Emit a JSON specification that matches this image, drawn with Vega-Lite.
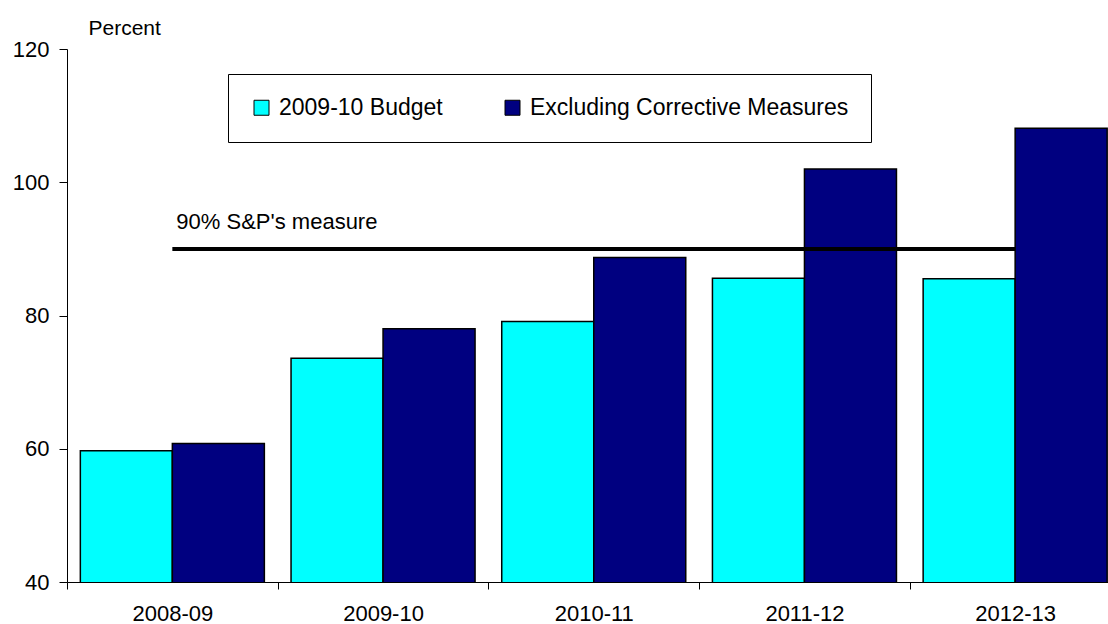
{
  "$schema": "https://vega.github.io/schema/vega-lite/v6.json",
  "width": 1041,
  "height": 533,
  "autosize": {"type": "none"},
  "padding": {"left": 67, "top": 49, "right": 0, "bottom": 42},
  "background": "white",
  "config": {
    "font": "Liberation Sans",
    "view": {"stroke": null}
  },
  "datasets": {
    "bars": [
      {"year": "2008-09", "series": "2009-10 Budget", "value": 59.7},
      {"year": "2008-09", "series": "Excluding Corrective Measures", "value": 60.8},
      {"year": "2009-10", "series": "2009-10 Budget", "value": 73.6},
      {"year": "2009-10", "series": "Excluding Corrective Measures", "value": 78.0},
      {"year": "2010-11", "series": "2009-10 Budget", "value": 79.1},
      {"year": "2010-11", "series": "Excluding Corrective Measures", "value": 88.7},
      {"year": "2011-12", "series": "2009-10 Budget", "value": 85.6},
      {"year": "2011-12", "series": "Excluding Corrective Measures", "value": 102.0},
      {"year": "2012-13", "series": "2009-10 Budget", "value": 85.5},
      {"year": "2012-13", "series": "Excluding Corrective Measures", "value": 108.1}
    ],
    "ref": [
      {"year": "2008-09", "value": 90},
      {"year": "2012-13", "value": 90}
    ],
    "note": [
      {"year": "2008-09", "value": 93, "label": "90% S&P's measure"}
    ]
  },
  "layer": [
    {
      "data": {"name": "bars"},
      "mark": {"type": "bar", "stroke": "black", "strokeWidth": 1.5, "clip": true},
      "encoding": {
        "x": {
          "field": "year",
          "type": "nominal",
          "sort": null,
          "scale": {"range": [0, 1053.5], "paddingInner": 0, "paddingOuter": 0},
          "axis": {
            "title": null,
            "labelAngle": 0,
            "labelFont": "Liberation Sans",
            "labelFontSize": 22,
            "labelColor": "black",
            "labelPadding": 14,
            "tickBand": "extent",
            "tickSize": 7,
            "tickColor": "black",
            "domainColor": "black",
            "domainWidth": 1,
            "grid": false
          }
        },
        "xOffset": {
          "field": "series",
          "type": "nominal",
          "sort": null,
          "scale": {"paddingOuter": 0.145, "paddingInner": 0}
        },
        "y": {
          "field": "value",
          "type": "quantitative",
          "scale": {"domain": [40, 120], "nice": false, "zero": false},
          "axis": {
            "values": [40, 60, 80, 100, 120],
            "grid": false,
            "labelFont": "Liberation Sans",
            "labelFontSize": 22,
            "labelColor": "black",
            "labelPadding": 10,
            "tickSize": 8,
            "tickColor": "black",
            "domainColor": "black",
            "title": "Percent",
            "titleAngle": 0,
            "titleAlign": "left",
            "titleBaseline": "alphabetic",
            "titleX": 21,
            "titleY": -15,
            "titleFont": "Liberation Sans",
            "titleFontSize": 21,
            "titleFontWeight": "normal",
            "titleColor": "black"
          }
        },
        "color": {
          "field": "series",
          "type": "nominal",
          "sort": null,
          "scale": {
            "domain": ["2009-10 Budget", "Excluding Corrective Measures"],
            "range": ["#00FFFF", "#000080"]
          },
          "legend": {
            "title": null,
            "orient": "none",
            "legendX": 161,
            "legendY": 25,
            "direction": "horizontal",
            "padding": 22,
            "strokeColor": "black",
            "fillColor": "white",
            "symbolType": "square",
            "symbolSize": 225,
            "symbolStrokeColor": "black",
            "symbolStrokeWidth": 1,
            "symbolOpacity": 1,
            "labelFont": "Liberation Sans",
            "labelFontSize": 23,
            "labelColor": "black",
            "labelOffset": 6,
            "labelLimit": 500,
            "columnPadding": 58
          }
        }
      }
    },
    {
      "data": {"name": "ref"},
      "mark": {"type": "line", "color": "black", "strokeWidth": 4},
      "encoding": {
        "x": {"field": "year", "type": "nominal", "sort": null},
        "y": {"field": "value", "type": "quantitative"}
      }
    },
    {
      "mark": {"type": "rule", "color": "#808080", "strokeWidth": 1},
      "encoding": {
        "y": {"datum": 120}
      }
    },
    {
      "data": {"name": "note"},
      "mark": {"type": "text", "align": "left", "baseline": "alphabetic", "dx": 4, "fontSize": 22, "font": "Liberation Sans", "color": "black"},
      "encoding": {
        "x": {"field": "year", "type": "nominal", "sort": null},
        "y": {"field": "value", "type": "quantitative"},
        "text": {"field": "label"}
      }
    }
  ]
}
